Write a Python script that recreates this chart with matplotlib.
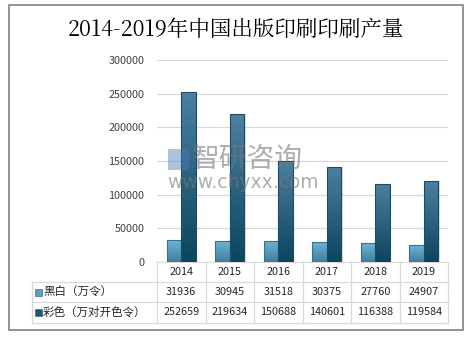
import matplotlib
matplotlib.use("Agg")
import matplotlib.pyplot as plt
import numpy as np
from matplotlib.patches import Rectangle
from matplotlib.colors import LinearSegmentedColormap
import matplotlib.transforms as mtransforms

plt.rcParams['font.family'] = ['Noto Sans CJK SC', 'DejaVu Sans']

years = ['2014', '2015', '2016', '2017', '2018', '2019']
bw_values = [31936, 30945, 31518, 30375, 27760, 24907]
color_values = [252659, 219634, 150688, 140601, 116388, 119584]
series_names = ['黑白（万令）', '彩色（万对开色令）']
yticks = [0, 50000, 100000, 150000, 200000, 250000, 300000]
title = '2014-2019年中国出版印刷印刷产量'

W, H = 471, 340
fig = plt.figure(figsize=(W / 100, H / 100), dpi=100)
fig.patch.set_facecolor('white')

# outer border
fig.add_artist(Rectangle((9 / W, 1 - 330 / H), (463 - 9) / W, (330 - 5) / H,
                         transform=fig.transFigure, fill=False,
                         edgecolor='#7f7f7f', linewidth=1.2))

fig.text(236 / W, 1 - 30 / H, title, ha='center', va='center', fontsize=15.5,
         color='black', family=['Noto Serif CJK SC', 'DejaVu Serif', 'Noto Sans CJK SC'])

ax_l, ax_r = 157, 448
ax_t, ax_b = 60, 262
ax = fig.add_axes([ax_l / W, 1 - ax_b / H, (ax_r - ax_l) / W, (ax_b - ax_t) / H])
ax.set_xlim(-0.5, 5.5)
ax.set_ylim(0, 300000)
ax.set_yticks(yticks)
ax.set_yticklabels([str(v) for v in yticks], fontsize=7.8, color='#404040')
ax.tick_params(axis='y', length=0, pad=9)
ax.set_xticks([])
for s in ['top', 'right', 'left']:
    ax.spines[s].set_visible(False)
ax.spines['bottom'].set_color('#d9d9d9')
ax.grid(axis='y', color='#d9d9d9', linewidth=0.9)
ax.set_axisbelow(True)

cmap_light = LinearSegmentedColormap.from_list('l', ['#3e7fa0', '#6fb5d4'])
cmap_dark = LinearSegmentedColormap.from_list('d', ['#0c4560', '#4c7fa0'])

bw = 0.3
x = np.arange(len(years))
for xi, v1, v2 in zip(x, bw_values, color_values):
    for off, val, cm, ec in [(-bw / 2, v1, cmap_light, '#3a6f88'),
                             (bw / 2, v2, cmap_dark, '#1e4a62')]:
        left = xi + off - bw / 2
        sh = Rectangle((left + 0.03, 0), bw, val, facecolor='#000000', alpha=0.12,
                       edgecolor='none', zorder=2)
        ax.add_patch(sh)
        rect = Rectangle((left, 0), bw, val, facecolor='none', edgecolor=ec,
                         linewidth=0.8, zorder=4)
        ax.add_patch(rect)
        grad = np.linspace(0, 1, 100).reshape(-1, 1)
        im = ax.imshow(grad, extent=[left, left + bw, 0, val], origin='lower',
                       cmap=cm, aspect='auto', zorder=3)
        im.set_clip_path(rect)
ax.set_xlim(-0.5, 5.5)
ax.set_ylim(0, 300000)

# watermark
fig.add_artist(Rectangle((168 / W, 1 - 170 / H), 21 / W, 21 / H, transform=fig.transFigure,
                         facecolor='#4a78b8', alpha=0.45, edgecolor='none', zorder=10))
fig.text(192 / W, 1 - 159 / H, '智研咨询', fontsize=20, color='#777777', alpha=0.6,
         ha='left', va='center', zorder=10)
fig.text(167 / W, 1 - 183 / H, 'www.chyxx.com', fontsize=13.5, color='#777777', alpha=0.6,
         ha='left', va='center', family='DejaVu Sans', zorder=10)

# table
tr = mtransforms.blended_transform_factory(ax.transData, fig.transFigure)
trf = fig.transFigure
line_c = '#d9d9d9'
row_y = [262, 282, 302, 323]
tab_left = 32
def fy(p):
    return 1 - p / H

for yy in row_y[1:]:
    fig.add_artist(plt.Line2D([tab_left / W, ax_r / W], [fy(yy), fy(yy)], transform=trf,
                              color=line_c, linewidth=0.9))
for k in range(len(years) + 1):
    xx = -0.5 + k
    fig.add_artist(plt.Line2D([xx, xx], [fy(262), fy(323)], transform=tr,
                              color=line_c, linewidth=0.9))
fig.add_artist(plt.Line2D([tab_left / W, tab_left / W], [fy(282), fy(323)], transform=trf,
                          color=line_c, linewidth=0.9))

for xi, yr in zip(x, years):
    fig.text(xi, fy(272), yr, transform=tr, ha='center', va='center', fontsize=7.8,
             color='#262626')
for xi, v in zip(x, bw_values):
    fig.text(xi, fy(292), str(v), transform=tr, ha='center', va='center', fontsize=7.8,
             color='#262626')
for xi, v in zip(x, color_values):
    fig.text(xi, fy(312), str(v), transform=tr, ha='center', va='center', fontsize=7.8,
             color='#262626')

leg_cols = ['#5ba1c2', '#1f5674']
for i, (name, c) in enumerate(zip(series_names, leg_cols)):
    yc = [292, 312][i]
    fig.add_artist(Rectangle((35 / W, fy(yc + 3.5)), 7 / W, 7 / H, transform=trf,
                             facecolor=c, edgecolor='#3a6f88', linewidth=0.5))
    fig.text(43 / W, fy(yc), name, ha='left', va='center', fontsize=8.3, color='#262626')

fig.savefig('out.png', dpi=100)
